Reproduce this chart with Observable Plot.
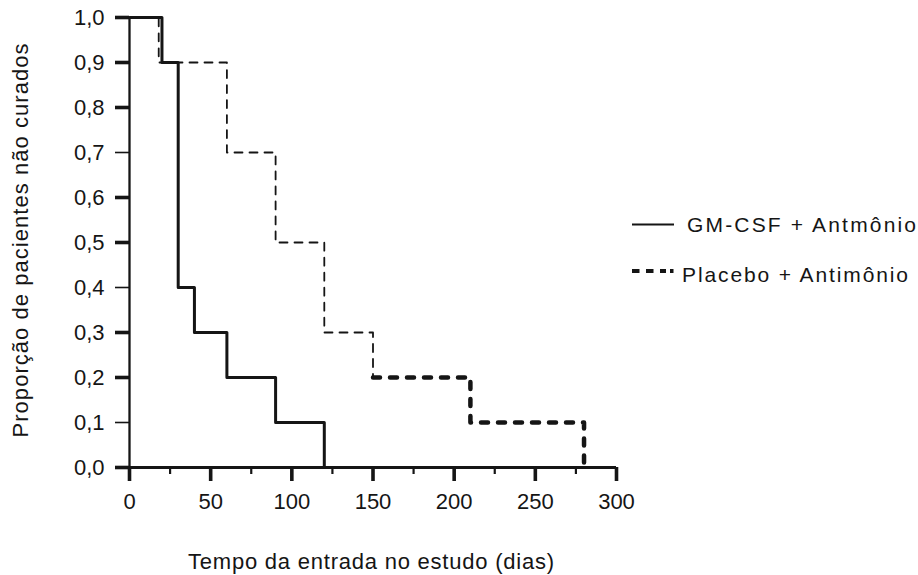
<!DOCTYPE html>
<html>
<head>
<meta charset="utf-8">
<script src="https://cdn.jsdelivr.net/npm/d3@7"></script>
<script src="https://cdn.jsdelivr.net/npm/@observablehq/plot@0.6"></script>
<style>
  body { margin: 0; background: #fff; }
  #wrap { position: relative; width: 918px; height: 575px; font-family: "Liberation Sans", Arial, sans-serif; }
  #legend { position: absolute; left: 0; top: 0; pointer-events: none; }
</style>
</head>
<body>
<div id="wrap"></div>
<script>
// ---- data ----
const gmTimes = [0, 20, 30, 40, 60, 90, 120];
const gmSurv  = [1.0, 0.9, 0.4, 0.3, 0.2, 0.1, 0.0];
const plTimes = [0, 18, 60, 90, 120, 150, 210, 280];
const plSurv  = [1.0, 0.9, 0.7, 0.5, 0.3, 0.2, 0.1, 0.0];
const xMajorTicks = [0, 50, 100, 150, 200, 250, 300];
const xMinorTicks = [25, 75, 125, 175, 225, 275];
const yTicks = [0, 0.1, 0.2, 0.3, 0.4, 0.5, 0.6, 0.7, 0.8, 0.9, 1.0];
const yThinTicks = [0.1, 0.4, 0.7];
const seriesNames = ["GM-CSF + Antmônio", "Placebo + Antimônio"];
const xTitle = "Tempo da entrada no estudo (dias)";
const yTitle = "Proporção de pacientes não curados";

const gm = gmTimes.map((t, i) => ({t, s: gmSurv[i]}));
const pl = plTimes.map((t, i) => ({t, s: plSurv[i]}));
const plUpper = pl.filter(d => d.t <= 150);
const plLower = pl.filter(d => d.t >= 150);
const yThick = yTicks.filter(v => !yThinTicks.includes(v));
const fmt = d => d.toFixed(1).replace(".", ",");
const ink = "#151515";

const chart = Plot.plot({
  width: 918,
  height: 575,
  marginLeft: 129,
  marginRight: 302,
  marginTop: 17,
  marginBottom: 108,
  x: {domain: [0, 300], label: null},
  y: {domain: [0, 1], label: null},
  style: {fontFamily: '"Liberation Sans", Arial, sans-serif', fontSize: "22px", color: ink, background: "transparent"},
  marks: [
    Plot.axisY(yTicks, {tickSize: 0, tickPadding: 25, tickFormat: fmt, fontSize: 22, label: null}),
    Plot.axisY(yThick, {tickSize: 14, tickFormat: () => "", strokeWidth: 3.6, label: null}),
    Plot.axisY(yThinTicks, {tickSize: 14, tickFormat: () => "", strokeWidth: 1.6, label: null}),
    Plot.axisX(xMajorTicks, {tickSize: 14, tickPadding: 12, tickFormat: d => String(d), strokeWidth: 3.6, fontSize: 22, label: null}),
    Plot.axisX(xMinorTicks, {tickSize: 7, tickFormat: () => "", strokeWidth: 2.2, label: null}),
    Plot.ruleY([0], {stroke: ink, strokeWidth: 3}),
    Plot.ruleX([0], {stroke: ink, strokeWidth: 2.3}),
    Plot.line(plUpper, {x: "t", y: "s", curve: "step-after", stroke: ink, strokeWidth: 1.8, strokeDasharray: "8,7"}),
    Plot.line(plLower, {x: "t", y: "s", curve: "step-after", stroke: ink, strokeWidth: 4.5, strokeDasharray: "7,10"}),
    Plot.line(gm, {x: "t", y: "s", curve: "step-after", stroke: ink, strokeWidth: 3}),
    Plot.text([xTitle], {text: d => d, frameAnchor: "bottom", textAnchor: "middle", dx: -2, dy: 94, lineAnchor: "middle", fontSize: 22, fill: ink}),
    Plot.text([yTitle], {text: d => d, frameAnchor: "left", textAnchor: "middle", rotate: -90, dx: -109, dy: -2, lineAnchor: "middle", fontSize: 22, fill: ink})
  ]
});

const wrap = document.getElementById("wrap");
wrap.appendChild(chart);
const svgSel = d3.select(chart.tagName.toLowerCase() === "svg" ? chart : chart.querySelector("svg"));

// stretch titles to the reference widths
svgSel.selectAll("text").filter(function() { return this.textContent === xTitle; })
  .attr("text-anchor", "middle").attr("textLength", 366).attr("lengthAdjust", "spacing");
svgSel.selectAll("text").filter(function() { return this.textContent === yTitle; })
  .attr("text-anchor", "middle").attr("textLength", 394).attr("lengthAdjust", "spacing");

// legend (overlaid at the right)
const leg = d3.select(wrap).append("svg").attr("id", "legend").attr("width", 918).attr("height", 575)
  .style("font-family", '"Liberation Sans", Arial, sans-serif');
const rows = [
  {name: seriesNames[0], y: 224.5, tx: 687, base: 231.7, len: 229, dash: null, w: 2},
  {name: seriesNames[1], y: 271, tx: 682, base: 281.7, len: 226, dash: "7.5,6.5,7.5,6.5,6,4,3.5", w: 4}
];
rows.forEach(r => {
  leg.append("line").attr("x1", 632).attr("x2", 674).attr("y1", r.y).attr("y2", r.y)
    .attr("stroke", ink).attr("stroke-width", r.w).attr("stroke-dasharray", r.dash);
  leg.append("text").attr("x", r.tx).attr("y", r.base).attr("font-size", 21).attr("fill", ink)
    .attr("textLength", r.len).attr("lengthAdjust", "spacing").text(r.name);
});
</script>
</body>
</html>
